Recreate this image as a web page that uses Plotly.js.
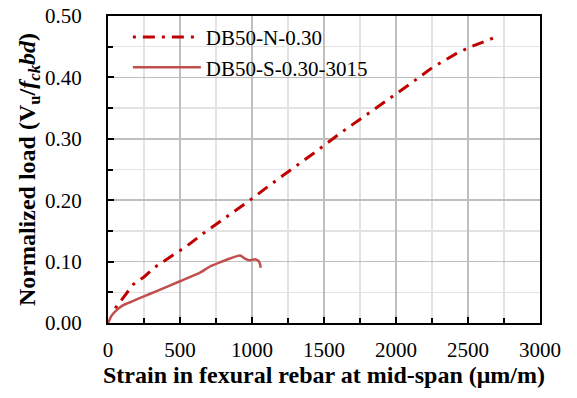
<!DOCTYPE html>
<html>
<head>
<meta charset="utf-8">
<script src="https://cdn.plot.ly/plotly-3.0.1.min.js"></script>
<style>
  html, body { margin: 0; padding: 0; background: #fff; }
  #chart { width: 577px; height: 398px; }
</style>
</head>
<body>
<div id="chart"></div>
<script>
// Load–strain response of the two beams (strain in µm/m, load normalised by fck·b·d)
const seriesNames = ['DB50-N-0.30', 'DB50-S-0.30-3015'];

const strainN = [50, 105, 176, 250, 326, 442, 551, 651, 812, 974, 1132, 1292, 1449, 1606, 1770, 1928, 2090, 2252, 2421, 2510, 2602, 2685];
const loadN   = [0.024, 0.041, 0.063, 0.075, 0.091, 0.109, 0.126, 0.144, 0.171, 0.198, 0.226, 0.253, 0.280, 0.308, 0.335, 0.362, 0.388, 0.416, 0.439, 0.449, 0.457, 0.465];

const strainS = [0, 10, 25, 60, 106, 176, 245, 338, 500, 639, 708, 780, 847, 917, 951, 986, 1021, 1045, 1056, 1060];
const loadS   = [0, 0.005, 0.012, 0.021, 0.029, 0.036, 0.043, 0.052, 0.068, 0.082, 0.092, 0.099, 0.105, 0.110, 0.105, 0.102, 0.104, 0.101, 0.096, 0.090];

const xTicks = [0, 500, 1000, 1500, 2000, 2500, 3000];
const yTicks = [0.0, 0.1, 0.2, 0.3, 0.4, 0.5];

const traces = [
  {
    x: strainN, y: loadN, name: seriesNames[0], type: 'scatter', mode: 'lines',
    line: { color: '#c00000', width: 3, dash: '3px,7px,12px,7px' }
  },
  {
    x: strainS, y: loadS, name: seriesNames[1], type: 'scatter', mode: 'lines',
    line: { color: '#c0504d', width: 2.5, shape: 'spline', smoothing: 0.6 }
  }
];

const layout = {
  width: 577, height: 398,
  margin: { l: 108, r: 37, t: 16, b: 75 },
  paper_bgcolor: '#fff', plot_bgcolor: '#fff',
  font: { family: 'serif', color: '#000' },
  showlegend: true,
  legend: {
    x: 0.046, y: 0.997, xanchor: 'left', yanchor: 'top',
    bgcolor: 'rgba(0,0,0,0)', borderwidth: 0, itemwidth: 68,
    font: { family: 'serif', size: 21, color: '#000' }
  },
  xaxis: {
    showline: true, linecolor: '#000', linewidth: 2, mirror: true,
    ticks: 'inside', ticklen: 6, tickwidth: 2, tickcolor: '#000',
    showgrid: true, gridcolor: '#bfbfbf', gridwidth: 1.5, zeroline: false,
    range: [0, 3000], tickvals: xTicks, ticktext: xTicks.map(String),
    tickfont: { family: 'Liberation Serif', size: 21, color: '#000' },
    ticklabelstandoff: 7,
    minor: { dtick: 250, tick0: 0, showgrid: true, gridcolor: '#e3e3e3', gridwidth: 1.5, ticks: 'inside', ticklen: 5, tickwidth: 2, tickcolor: '#000' },
    title: { text: '<b>Strain in fexural rebar at mid-span (μm/m)</b>', font: { family: 'serif', size: 24, color: '#000' }, standoff: 1 }
  },
  yaxis: {
    showline: true, linecolor: '#000', linewidth: 2, mirror: true,
    ticks: 'inside', ticklen: 6, tickwidth: 2, tickcolor: '#000',
    showgrid: true, gridcolor: '#bfbfbf', gridwidth: 1.5, zeroline: false,
    range: [0, 0.5], tickvals: yTicks, ticktext: yTicks.map(v => v.toFixed(2)),
    tickfont: { family: 'Liberation Serif', size: 21, color: '#000' },
    ticklabelstandoff: 20,
    minor: { dtick: 0.05, tick0: 0, showgrid: true, gridcolor: '#e3e3e3', gridwidth: 1.5, ticks: 'inside', ticklen: 5, tickwidth: 2, tickcolor: '#000' },
    title: { text: '<b>Normalized load (V<sub>u</sub>/<i>f</i><sub><i>ck</i></sub><i>bd</i>)</b>', font: { family: 'serif', size: 24, color: '#000' }, standoff: 3 }
  }
};

Plotly.newPlot('chart', traces, layout, { staticPlot: true, displayModeBar: false });
</script>
</body>
</html>
